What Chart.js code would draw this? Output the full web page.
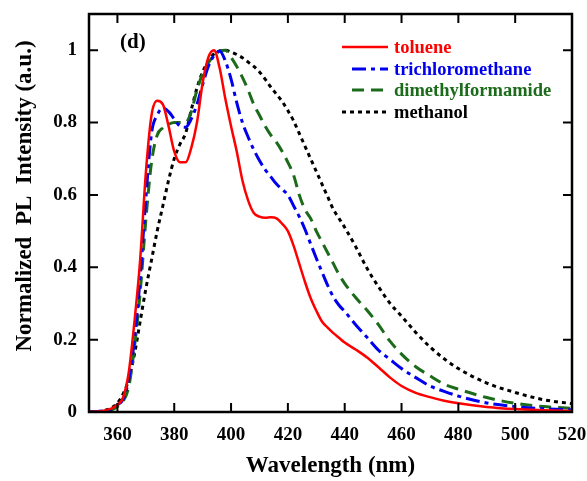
<!DOCTYPE html>
<html>
<head>
<meta charset="utf-8">
<script src="https://cdn.jsdelivr.net/npm/chart.js@4"></script>
<style>
  body { margin: 0; background: #fff; }
  #wrap { width: 587px; height: 481px; }
</style>
</head>
<body>
<div id="wrap"><canvas id="pl-chart" width="587" height="481"></canvas></div>
<script>
const wavelength = [350, 354, 358, 360, 362, 364, 366, 368, 370, 372, 374, 376, 378, 380, 382, 384, 386, 388, 390, 392,
    394, 396, 398, 400, 402, 404, 406, 408, 410, 412, 414, 416, 418, 420, 422, 424, 426, 428, 430, 432,
    434, 436, 438, 440, 444, 448, 452, 456, 460, 465, 470, 475, 480, 490, 500, 510, 520];

const toluene = [0, 0.002, 0.01, 0.02, 0.04, 0.11, 0.25, 0.42, 0.66, 0.82, 0.86, 0.85, 0.79, 0.72, 0.69, 0.69, 0.73, 0.80, 0.91, 0.98,
    1.0, 0.95, 0.865, 0.79, 0.72, 0.64, 0.585, 0.55, 0.54, 0.537, 0.538, 0.535, 0.52, 0.50, 0.46, 0.41, 0.36, 0.315, 0.28, 0.25,
    0.233, 0.218, 0.205, 0.192, 0.172, 0.15, 0.123, 0.095, 0.072, 0.053, 0.041, 0.031, 0.024, 0.014, 0.008, 0.005, 0.003];

const trichloromethane = [0, 0.002, 0.008, 0.02, 0.035, 0.09, 0.20, 0.37, 0.59, 0.77, 0.82, 0.84, 0.83, 0.81, 0.79, 0.787, 0.81, 0.85, 0.905, 0.955,
    0.985, 0.998, 0.97, 0.92, 0.855, 0.80, 0.76, 0.725, 0.695, 0.67, 0.65, 0.63, 0.615, 0.60, 0.57, 0.54, 0.505, 0.465, 0.425, 0.387,
    0.35, 0.318, 0.295, 0.278, 0.24, 0.205, 0.17, 0.145, 0.12, 0.095, 0.072, 0.057, 0.044, 0.025, 0.015, 0.009, 0.006];

const dimethylformamide = [0, 0.001, 0.006, 0.015, 0.03, 0.07, 0.18, 0.33, 0.53, 0.69, 0.765, 0.785, 0.795, 0.80, 0.80, 0.80, 0.83, 0.89, 0.935, 0.965,
    0.985, 0.997, 1.0, 0.98, 0.955, 0.925, 0.89, 0.85, 0.82, 0.79, 0.765, 0.745, 0.72, 0.69, 0.655, 0.60, 0.56, 0.535, 0.50, 0.47,
    0.44, 0.41, 0.38, 0.355, 0.315, 0.28, 0.24, 0.195, 0.16, 0.125, 0.10, 0.077, 0.063, 0.04, 0.024, 0.015, 0.01];

const methanol = [0, 0.002, 0.012, 0.025, 0.05, 0.09, 0.16, 0.25, 0.34, 0.42, 0.50, 0.57, 0.64, 0.70, 0.74, 0.77, 0.835, 0.895, 0.94, 0.97,
    0.99, 0.998, 1.0, 0.995, 0.988, 0.979, 0.967, 0.955, 0.94, 0.92, 0.898, 0.878, 0.858, 0.833, 0.805, 0.77, 0.735, 0.70, 0.665, 0.63,
    0.595, 0.56, 0.535, 0.51, 0.455, 0.395, 0.345, 0.30, 0.265, 0.22, 0.18, 0.147, 0.12, 0.08, 0.054, 0.034, 0.023];

const xTicks = [360, 380, 400, 420, 440, 460, 480, 500, 520];
const yTicks = [0, 0.2, 0.4, 0.6, 0.8, 1];

const serif = '"Liberation Serif", "Times New Roman", serif';

function series(label, values, color, dash, width) {
    return {
        label: label,
        data: wavelength.map((x, i) => ({ x: x, y: values[i] })),
        borderColor: color,
        borderWidth: width,
        borderDash: dash,
        pointRadius: 0,
        fill: false,
        cubicInterpolationMode: 'monotone'
    };
}

// frame, inward ticks, titles and the legend drawn on top of the plot
const decorations = {
    id: 'decorations',
    afterDraw(chart) {
        const { ctx, chartArea: a, scales: { x, y } } = chart;
        ctx.save();
        ctx.strokeStyle = '#000';
        ctx.setLineDash([]);
        ctx.lineWidth = 2.5;
        ctx.strokeRect(a.left, a.top, a.right - a.left, a.bottom - a.top);

        ctx.lineWidth = 2;
        ctx.beginPath();
        xTicks.forEach(v => {
            const px = x.getPixelForValue(v);
            ctx.moveTo(px, a.bottom); ctx.lineTo(px, a.bottom - 9);
            ctx.moveTo(px, a.top); ctx.lineTo(px, a.top + 9);
        });
        yTicks.forEach(v => {
            const py = y.getPixelForValue(v);
            ctx.moveTo(a.left, py); ctx.lineTo(a.left + 9, py);
            ctx.moveTo(a.right, py); ctx.lineTo(a.right - 9, py);
        });
        ctx.stroke();

        // axis titles
        ctx.fillStyle = '#000';
        ctx.font = 'bold 23px ' + serif;
        ctx.textAlign = 'center';
        ctx.textBaseline = 'middle';
        ctx.fillText('Wavelength (nm)', (a.left + a.right) / 2, 466);
        ctx.save();
        ctx.translate(25, 196);
        ctx.rotate(-Math.PI / 2);
        ctx.fillText('Normalized  PL  Intensity (a.u.)', 0, 0);
        ctx.restore();

        // panel label
        ctx.font = 'bold 21px ' + serif;
        ctx.textAlign = 'left';
        ctx.fillText('(d)', 120, 43);

        // legend
        const rows = [48, 70, 91, 113];
        const starts = [342, 352, 352, 342];
        ctx.font = 'bold 18.5px ' + serif;
        chart.data.datasets.forEach((ds, i) => {
            ctx.strokeStyle = ds.borderColor;
            ctx.lineWidth = ds.borderWidth;
            ctx.setLineDash(ds.borderDash);
            ctx.beginPath();
            ctx.moveTo(starts[i], rows[i] - 1);
            ctx.lineTo(388, rows[i] - 1);
            ctx.stroke();
            ctx.fillStyle = ds.borderColor;
            ctx.fillText(ds.label, 394, rows[i]);
        });
        ctx.restore();
    }
};

const tickFont = { family: serif, size: 19, weight: 'bold' };

new Chart(document.getElementById('pl-chart').getContext('2d'), {
    type: 'line',
    data: {
        datasets: [
            series('toluene', toluene, '#ff0000', [], 2.5),
            series('trichloromethane', trichloromethane, '#0000ee', [14, 5, 4, 5], 3),
            series('dimethylformamide', dimethylformamide, '#1b6b1b', [12, 7], 3),
            series('methanol', methanol, '#000000', [4, 4], 3)
        ]
    },
    options: {
        responsive: false,
        animation: false,
        layout: { padding: { top: 14, right: 15, left: 0, bottom: 0 } },
        plugins: { legend: { display: false }, tooltip: { enabled: false } },
        scales: {
            x: {
                type: 'linear',
                min: 350,
                max: 520,
                afterFit: scale => {
                    scale.height = 69;
                    scale.paddingLeft = 0;
                    scale.paddingRight = 0;
                },
                afterBuildTicks: scale => { scale.ticks = xTicks.map(v => ({ value: v })); },
                grid: { display: false, drawTicks: false },
                border: { display: false },
                ticks: { font: tickFont, color: '#000', padding: 12, maxRotation: 0, autoSkip: false }
            },
            y: {
                min: 0,
                max: 1.1,
                afterFit: scale => {
                    scale.width = 89;
                    scale.paddingTop = 0;
                    scale.paddingBottom = 0;
                },
                afterBuildTicks: scale => { scale.ticks = yTicks.map(v => ({ value: v })); },
                grid: { display: false, drawTicks: false },
                border: { display: false },
                ticks: {
                    font: tickFont, color: '#000', padding: 12, autoSkip: false,
                    callback: value => String(Math.round(value * 10) / 10)
                }
            }
        }
    },
    plugins: [decorations]
});
</script>
</body>
</html>
